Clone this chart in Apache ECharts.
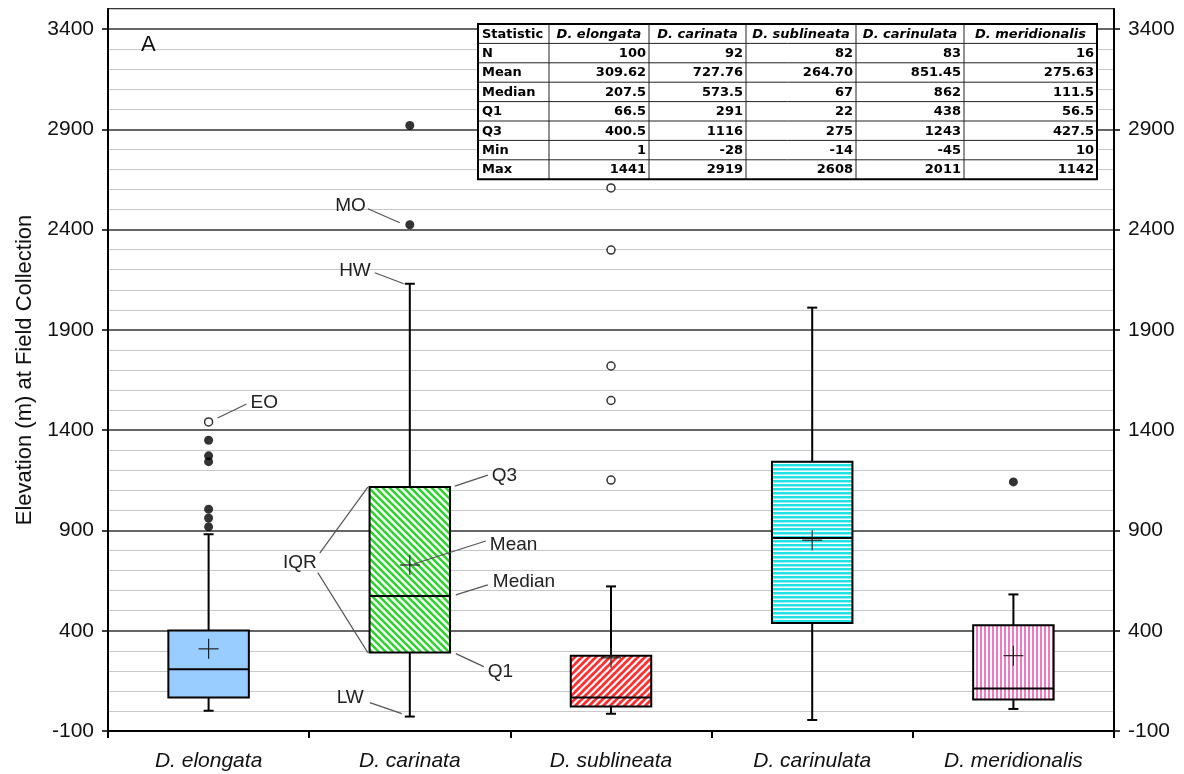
<!DOCTYPE html>
<html>
<head>
<meta charset="utf-8">
<script src="https://cdn.jsdelivr.net/npm/echarts@6/dist/echarts.min.js"></script>
<style>html,body{margin:0;padding:0;background:#fff}#c{width:1184px;height:774px}</style>
</head>
<body>
<div id="c"></div>
<script>
// ---------------- data ----------------
const categories = ['D. elongata', 'D. carinata', 'D. sublineata', 'D. carinulata', 'D. meridionalis'];
const lowWhisker   = [1, -28, -14, -45, 10];
const q1Values     = [66.5, 291, 22, 438, 56.5];
const medianValues = [207.5, 573.5, 67, 862, 111.5];
const q3Values     = [400.5, 1116, 275, 1243, 427.5];
const highWhisker  = [881, 2130, 621, 2011, 581];
const meanValues   = [309.62, 727.76, 264.70, 851.45, 275.63];
// outliers: [category index, elevation]
const filledOutliers = [[0, 1350], [0, 1272], [0, 1243], [0, 1006], [0, 962], [0, 918], [1, 2919], [1, 2424], [4, 1142]];
const openOutliers   = [[0, 1441], [2, 2608], [2, 2298], [2, 1720], [2, 1548], [2, 1151]];

const yMin = -100, yMax = 3500, yMajor = 500, yMinor = 100;
const yAxisTitle = 'Elevation (m) at Field Collection';
const panelLabel = 'A';

// statistics table
const tableHeader    = ['Statistic', 'D. elongata', 'D. carinata', 'D. sublineata', 'D. carinulata', 'D. meridionalis'];
const tableStatNames = ['N', 'Mean', 'Median', 'Q1', 'Q3', 'Min', 'Max'];
const statN      = ['100', '92', '82', '83', '16'];
const statMean   = ['309.62', '727.76', '264.70', '851.45', '275.63'];
const statMedian = ['207.5', '573.5', '67', '862', '111.5'];
const statQ1     = ['66.5', '291', '22', '438', '56.5'];
const statQ3     = ['400.5', '1116', '275', '1243', '427.5'];
const statMin    = ['1', '-28', '-14', '-45', '10'];
const statMax    = ['1441', '2919', '2608', '2011', '1142'];

// annotations (anchored at a category / value)
const annotLabels   = ['EO', 'MO', 'HW', 'IQR', '', 'Q3', 'Mean', 'Median', 'Q1', 'LW'];
const annotCategory = [0, 1, 1, 1, 1, 1, 1, 1, 1, 1];
const annotValue    = [1441, 2424, 2130, 1116, 291, 1116, 727.76, 573.5, 291, -28];

// ---------------- styling ----------------
const annotDx   = [0, 0, 0, -42, -42, 40, 0, 40, 40, 0];
const annotLine = [[9,-4,38,-18],[-42,-16,-10,-2],[-35,-11,-6,0],[0,0,-48,66],[0,0,-50,-80],
                   [5,-1,38,-12],[4,-1,76,-24],[6,-1,38,-11],[6,1,34,14],[-40,-14,-8,-3]];
const annotText = [[42,-19,'left'],[-44,-19,'right'],[-39,-13,'right'],[-68,76,'center'],[0,0,'left'],
                   [42,-11,'left'],[80,-20,'left'],[43,-14,'left'],[38,19,'left'],[-46,-19,'right']];

function makePattern(kind) {
  const c = document.createElement('canvas');
  let s = 7;
  if (kind === 'cyan' || kind === 'pink') s = 4;
  c.width = s; c.height = s;
  const g = c.getContext('2d');
  g.fillStyle = '#ffffff';
  g.fillRect(0, 0, s, s);
  if (kind === 'green' || kind === 'red') {
    g.strokeStyle = kind === 'green' ? '#2ed12e' : '#ff3030';
    g.lineWidth = 2.6;
    for (const k of [-s, 0, s]) {
      g.beginPath();
      if (kind === 'green') { g.moveTo(k - 3, -3); g.lineTo(k + s + 3, s + 3); }
      else { g.moveTo(k + 3, -3); g.lineTo(k - s - 3, s + 3); g.moveTo(k + s + 3, -3); g.lineTo(k - 3, s + 3); }
      g.stroke();
    }
  } else if (kind === 'cyan') {
    g.fillStyle = '#22e2e6';
    g.fillRect(0, 0, s, 2.5);
  } else if (kind === 'pink') {
    g.fillStyle = '#f07ac0';
    g.fillRect(0, 0, 2, s);
  }
  return { image: c, repeat: 'repeat' };
}
const boxFills = ['#99ccff', makePattern('green'), makePattern('red'), makePattern('cyan'), makePattern('pink')];

const boxData = categories.map((c, i) => [i, lowWhisker[i], q1Values[i], medianValues[i], q3Values[i], highWhisker[i], meanValues[i]]);
const annotData = annotLabels.map((t, i) => [annotCategory[i], annotValue[i]]);

function renderBox(params, api) {
  const i = params.dataIndex;
  const cat = api.value(0);
  const xc = api.coord([cat, 0])[0];
  const yv = k => api.coord([cat, api.value(k)])[1];
  const yLow = yv(1), yQ1 = yv(2), yMed = yv(3), yQ3 = yv(4), yHigh = yv(5), yMean = yv(6);
  const hw = api.size([1, 0])[0] * 0.2;
  const cap = 5;
  const ln = (x1, y1, x2, y2, w, c) => ({ type: 'line', shape: { x1, y1, x2, y2 }, style: { stroke: c || '#000', lineWidth: w || 2 } });
  return {
    type: 'group',
    children: [
      ln(xc, yQ1, xc, yLow), ln(xc - cap, yLow, xc + cap, yLow),
      ln(xc, yQ3, xc, yHigh), ln(xc - cap, yHigh, xc + cap, yHigh),
      { type: 'rect', shape: { x: xc - hw, y: yQ3, width: 2 * hw, height: yQ1 - yQ3 },
        style: { fill: boxFills[i], stroke: '#000', lineWidth: 2 } },
      ln(xc - hw, yMed, xc + hw, yMed),
      ln(xc - 10, yMean, xc + 10, yMean, 1.2, '#222'),
      ln(xc, yMean - 10, xc, yMean + 10, 1.2, '#222')
    ]
  };
}

function renderAnnot(params, api) {
  const i = params.dataIndex;
  const p = api.coord([api.value(0), api.value(1)]);
  const ax = p[0] + annotDx[i], ay = p[1];
  const l = annotLine[i], t = annotText[i];
  const children = [{ type: 'line', shape: { x1: ax + l[0], y1: ay + l[1], x2: ax + l[2], y2: ay + l[3] },
                      style: { stroke: '#555', lineWidth: 1.2 } }];
  if (annotLabels[i]) {
    children.push({ type: 'text', x: ax + t[0], y: ay + t[1],
      style: { text: annotLabels[i], fill: '#222', font: '19px "Liberation Sans", Arial, sans-serif', align: t[2], verticalAlign: 'middle' } });
  }
  return { type: 'group', children };
}

// table graphic
const colX = [478, 549, 649, 746, 856, 964, 1097];
const rowTop = 24, rowH = 19.4;
const tableEls = [];
tableEls.push({ type: 'rect', shape: { x: colX[0], y: rowTop, width: colX[6] - colX[0], height: rowH * 8 },
  style: { fill: '#fff', stroke: 'none' }, z: 100 });
for (let r = 1; r < 8; r++) {
  tableEls.push({ type: 'line', shape: { x1: colX[0], y1: rowTop + r * rowH, x2: colX[6], y2: rowTop + r * rowH },
    style: { stroke: '#222', lineWidth: 1 }, z: 101 });
}
for (let c = 1; c < 6; c++) {
  tableEls.push({ type: 'line', shape: { x1: colX[c], y1: rowTop, x2: colX[c], y2: rowTop + 8 * rowH },
    style: { stroke: '#222', lineWidth: 1 }, z: 101 });
}
tableEls.push({ type: 'rect', shape: { x: colX[0], y: rowTop, width: colX[6] - colX[0], height: rowH * 8 },
  style: { fill: 'none', stroke: '#000', lineWidth: 2 }, z: 102 });
const tFont = 'bold 13px "DejaVu Sans", sans-serif';
const tFontI = 'italic bold 13px "DejaVu Sans", sans-serif';
tableHeader.forEach((h, c) => {
  tableEls.push({ type: 'text', x: c === 0 ? colX[0] + 4 : (colX[c] + colX[c + 1]) / 2, y: rowTop + rowH / 2 + 0.5, z: 103,
    style: { text: h, font: c === 0 ? tFont : tFontI, fill: '#000', align: c === 0 ? 'left' : 'center', verticalAlign: 'middle' } });
});
const statRows = [statN, statMean, statMedian, statQ1, statQ3, statMin, statMax];
tableStatNames.forEach((n, r) => {
  const y = rowTop + (r + 1.5) * rowH + 0.5;
  tableEls.push({ type: 'text', x: colX[0] + 4, y, z: 103,
    style: { text: n, font: tFont, fill: '#000', align: 'left', verticalAlign: 'middle' } });
  statRows[r].forEach((v, c) => {
    tableEls.push({ type: 'text', x: colX[c + 2] - 3, y, z: 103,
      style: { text: v, font: tFont, fill: '#000', align: 'right', verticalAlign: 'middle' } });
  });
});
tableEls.push({ type: 'text', x: 141, y: 45, z: 103,
  style: { text: panelLabel, font: '22px "Liberation Sans", Arial, sans-serif', fill: '#111', align: 'left', verticalAlign: 'middle' } });

const labelFont = { fontSize: 21, color: '#111', fontFamily: '"Liberation Sans", Arial, sans-serif' };
const plainNum = v => String(v);

const chart = echarts.init(document.getElementById('c'), null, { renderer: 'canvas' });
chart.setOption({
  animation: false,
  backgroundColor: '#fff',
  grid: { left: 108, right: 70, top: 9, bottom: 43, show: true, borderColor: '#000', borderWidth: 1.5, backgroundColor: 'transparent' },
  xAxis: {
    type: 'category', data: categories, boundaryGap: true,
    axisLine: { onZero: false, lineStyle: { color: '#000', width: 2 } },
    axisTick: { show: true, length: 7, lineStyle: { color: '#000', width: 2 } },
    axisLabel: Object.assign({ fontStyle: 'italic', margin: 20 }, labelFont),
    splitLine: { show: false }
  },
  yAxis: [
    { type: 'value', position: 'left', min: yMin, max: yMax, interval: yMajor,
      axisLine: { show: true, onZero: false, lineStyle: { color: '#000', width: 2 } },
      axisTick: { show: true, length: 6, lineStyle: { color: '#000', width: 1.5 } },
      axisLabel: Object.assign({ margin: 14, showMaxLabel: false, formatter: plainNum }, labelFont),
      splitLine: { show: true, lineStyle: { color: '#333', width: 1.5 } },
      name: yAxisTitle, nameLocation: 'middle', nameGap: 68,
      nameTextStyle: { fontSize: 22, color: '#111', fontFamily: '"Liberation Sans", Arial, sans-serif' } },
    { type: 'value', position: 'right', min: yMin, max: yMax, interval: yMajor,
      axisLine: { show: true, onZero: false, lineStyle: { color: '#000', width: 2 } },
      axisTick: { show: true, length: 6, lineStyle: { color: '#000', width: 1.5 } },
      axisLabel: Object.assign({ margin: 14, showMaxLabel: false, formatter: plainNum }, labelFont),
      splitLine: { show: false } },
    { type: 'value', position: 'left', min: yMin, max: yMax, interval: yMinor,
      axisLine: { show: false }, axisTick: { show: false }, axisLabel: { show: false },
      splitLine: { show: true, lineStyle: { color: ['rgba(0,0,0,0)', '#c8c8c8', '#c8c8c8', '#c8c8c8', '#c8c8c8'], width: 1 } } }
  ],
  graphic: { elements: tableEls },
  series: [
    { type: 'custom', name: 'box', renderItem: renderBox, data: boxData, xAxisIndex: 0, yAxisIndex: 0,
      encode: { x: 0, y: [1, 2, 3, 4, 5, 6] }, z: 3 },
    { type: 'scatter', name: 'outliers', data: filledOutliers, xAxisIndex: 0, yAxisIndex: 0,
      symbol: 'circle', symbolSize: 9, itemStyle: { color: '#000' }, z: 4 },
    { type: 'scatter', name: 'extreme', data: openOutliers, xAxisIndex: 0, yAxisIndex: 0,
      symbol: 'circle', symbolSize: 8, itemStyle: { color: '#fff', borderColor: '#000', borderWidth: 1.5 }, z: 4 },
    { type: 'custom', name: 'annotations', renderItem: renderAnnot, data: annotData, xAxisIndex: 0, yAxisIndex: 0,
      encode: { x: 0, y: 1 }, z: 5 }
  ]
});
</script>
</body>
</html>
